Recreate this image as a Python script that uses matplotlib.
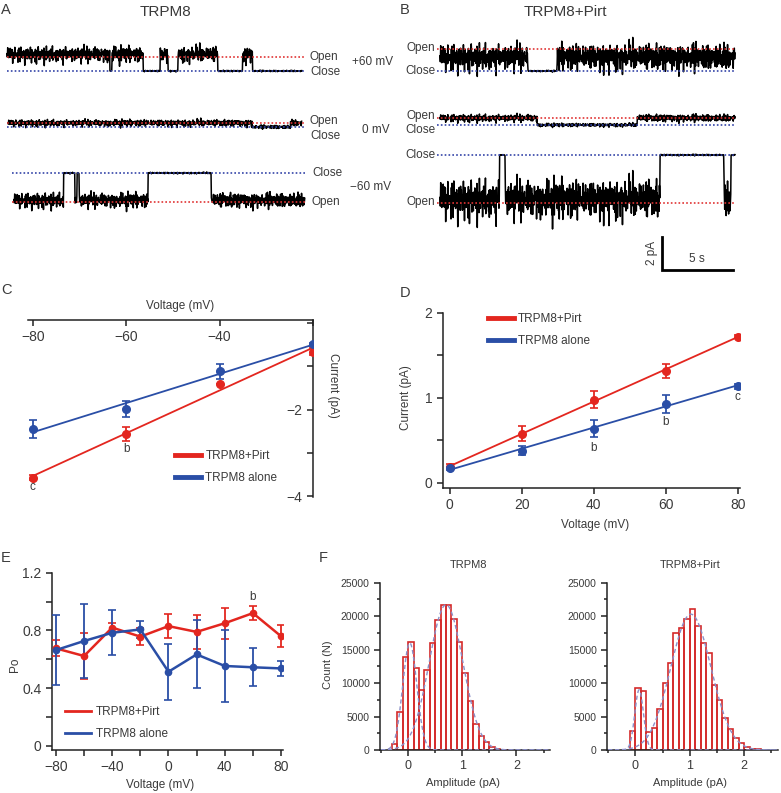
import numpy as np
import matplotlib.pyplot as plt
from matplotlib.lines import Line2D

plt.rcParams['font.family'] = ['Liberation Sans Narrow', 'Liberation Sans', 'DejaVu Sans']
TXT = '#3a3a3a'
RED = '#e3261f'
BLUE = '#2a4ea6'

# ---------------- data ----------------
# single-channel traces: open intervals (s), trace length (s), unitary current (pA)
A60_OPEN = [(0.0, 7.25), (7.4, 9.6), (10.8, 11.35), (12.05, 14.85), (16.6, 17.3)]
A60_DUR, A60_I = 20.8, 0.85
A0_OPEN = [(0.0, 17.2), (19.9, 20.7)]
A0_DUR, A0_I = 20.7, 0.24
AM60_OPEN = [(0.0, 3.5), (4.3, 4.45), (4.6, 9.45), (13.9, 20.5)]
AM60_DUR, AM60_I = 20.5, -1.76
B60_OPEN = [(0.0, 6.2), (8.25, 20.8)]
B60_DUR, B60_I = 20.8, 1.33
B0_OPEN = [(0.0, 6.85), (13.9, 20.8)]
B0_DUR, B0_I = 20.8, 0.42
BM60_OPEN = [(0.0, 4.2), (4.6, 15.5), (20.0, 20.5)]
BM60_DUR, BM60_I = 20.8, -2.9

# hand-typed noise texture for the recordings
NOISE = np.array([0.12, -0.45, 0.78, -0.10, 0.33, -0.86, 0.51, 0.04, -0.62, 0.95,
                  -0.28, 0.17, -0.71, 0.40, -0.05, 0.66, -0.93, 0.22, 0.58, -0.37,
                  0.09, -0.54, 0.87, -0.19, 0.30, -0.76, 0.45, -0.02, 0.69, -0.41,
                  0.14, -0.88, 0.53, -0.25, 0.81, -0.08, 0.36, -0.67, 0.20, 0.99,
                  -0.49, 0.07, -0.31, 0.61, -0.83, 0.26, -0.15, 0.72, -0.58, 0.39,
                  -0.97, 0.11, 0.48, -0.22, 0.84, -0.64, 0.03, -0.43, 0.57, -0.12,
                  0.91, -0.34, 0.18, -0.79, 0.42, -0.06, 0.63, -0.52, 0.29, -0.90,
                  0.75, -0.17, 0.06, -0.60, 0.47, -0.27, 0.85, -0.39, 0.15, -0.73,
                  0.54, -0.03, 0.32, -0.95, 0.68, -0.20, 0.10, -0.47, 0.89])

# C: I-V at negative voltages
C_V = np.array([-80, -60, -40, -20])
C_PIRT = np.array([-3.57, -2.57, -1.41, -0.66])
C_PIRT_ERR = np.array([0.05, 0.16, 0.0, 0.08])
C_ALONE = np.array([-2.45, -1.99, -1.12, -0.49])
C_ALONE_ERR = np.array([0.21, 0.19, 0.17, 0.03])

# D: I-V at positive voltages
D_V = np.array([0, 20, 40, 60, 80])
D_PIRT = np.array([0.19, 0.58, 0.98, 1.32, 1.72])
D_PIRT_ERR = np.array([0.03, 0.09, 0.10, 0.08, 0.02])
D_ALONE = np.array([0.17, 0.38, 0.64, 0.93, 1.14])
D_ALONE_ERR = np.array([0.02, 0.05, 0.10, 0.11, 0.03])

# E: open probability
E_V = np.array([-80, -60, -40, -20, 0, 20, 40, 60, 80])
E_PIRT = np.array([0.676, 0.623, 0.82, 0.757, 0.83, 0.79, 0.85, 0.92, 0.76])
E_PIRT_ERR = np.array([0.055, 0.16, 0.03, 0.06, 0.085, 0.12, 0.107, 0.046, 0.078])
E_ALONE = np.array([0.664, 0.727, 0.784, 0.807, 0.514, 0.634, 0.554, 0.545, 0.537])
E_ALONE_ERR = np.array([0.245, 0.255, 0.155, 0.06, 0.195, 0.235, 0.25, 0.133, 0.05])

# F: amplitude histograms (bin centres in pA, counts)
F1_BINS = np.array([-0.25, -0.15, -0.05, 0.05, 0.15, 0.25, 0.35, 0.45, 0.55, 0.65,
                    0.75, 0.85, 0.95, 1.05, 1.15, 1.25, 1.35, 1.45, 1.55, 1.65,
                    1.75, 1.85])
F1_COUNT = np.array([850, 5620, 13930, 16170, 12290, 8960, 11990, 15970, 19400, 21640,
                     21640, 19650, 16070, 11490, 7360, 3880, 2040, 1140, 400, 150,
                     60, 30])
F1_FIT = [(16000, 0.03, 0.13), (21700, 0.70, 0.31)]  # amplitude, mean, sd
F2_BINS = np.array([-0.05, 0.05, 0.15, 0.25, 0.35, 0.45, 0.55, 0.65, 0.75, 0.85,
                    0.95, 1.05, 1.15, 1.25, 1.35, 1.45, 1.55, 1.65, 1.75, 1.85,
                    1.95, 2.05, 2.15, 2.25])
F2_COUNT = np.array([2790, 9250, 8760, 2740, 3330, 6120, 9950, 12990, 17410, 18160,
                     19550, 21140, 18460, 15970, 14430, 9750, 7510, 4830, 3130, 1790,
                     1000, 450, 200, 100])
F2_FIT = [(9000, 0.07, 0.08), (20300, 1.02, 0.37)]

# ---------------- figure ----------------
W, H = 781, 793
fig = plt.figure(figsize=(W / 100, H / 100), dpi=100)


def box(l, t, r, b):
    return [l / W, 1 - b / H, (r - l) / W, (b - t) / H]


def ftext(x, y, s, **kw):
    kw.setdefault('color', TXT)
    kw.setdefault('fontsize', 8.5)
    fig.text(x / W, 1 - y / H, s, **kw)


PX_S = 14.2    # px per second
PX_PA = 16.5   # px per pA
ax_tr = fig.add_axes([0, 0, 1, 1])
ax_tr.set_xlim(0, W / PX_S)
ax_tr.set_ylim(-H / PX_PA, 0)
ax_tr.axis('off')


def build_trace(opens, dur, amp, n_open, n_closed, bias=0.0, dt=0.025):
    t = np.arange(0, dur, dt)
    state = np.zeros_like(t)
    for a, b in opens:
        state[(t >= a) & (t < b)] = 1
    k = np.arange(len(t))
    n = 0.7 * NOISE[k % len(NOISE)] + 0.3 * NOISE[(3 * k) % 53]
    n = n + 0.8 * n ** 3
    y = state * (amp + bias + n_open * n) + (1 - state) * n_closed * n
    return t, y


# (opens, dur, amp, noise open, noise closed, bias, x0 px, close px, dotted line x range)
traces = [
    (A60_OPEN, A60_DUR, A60_I, 0.42, 0.04, 0.15, 7, 71, (7, 305)),
    (A0_OPEN, A0_DUR, A0_I, 0.18, 0.1, 0.0, 8, 127, (7, 305)),
    (AM60_OPEN, AM60_DUR, AM60_I, 0.40, 0.04, 0.1, 14, 173, (12, 305)),
    (B60_OPEN, B60_DUR, B60_I, 0.72, 0.04, -0.5, 440, 71, (437, 735)),
    (B0_OPEN, B0_DUR, B0_I, 0.2, 0.09, 0.0, 440, 125, (437, 735)),
    (BM60_OPEN, BM60_DUR, BM60_I, 1.05, 0.04, 0.2, 440, 155, (437, 735)),
]
for opens, dur, amp, no, nc, bias, x0, yc, (xa, xb) in traces:
    t, y = build_trace(opens, dur, amp, no, nc, bias)
    base = -yc / PX_PA
    ax_tr.plot(x0 / PX_S + t, base + y, color='k', lw=1.1, zorder=2)
    ax_tr.plot([xa / PX_S, xb / PX_S], [base, base], color='#3444a8', lw=1.2,
               ls=(0, (1, 1.3)), zorder=3)
    ax_tr.plot([xa / PX_S, xb / PX_S], [base + amp, base + amp], color='#e03434',
               lw=1.2, ls=(0, (1, 1.3)), zorder=3)

# scale bar: 2 pA, 5 s
sx, sy = 662 / PX_S, -270 / PX_PA
ax_tr.plot([sx, sx, sx + 5], [sy + 2, sy, sy], color='k', lw=2, solid_joinstyle='miter')
ftext(652, 253, '2 pA', rotation=90, ha='center', va='center')
ftext(697, 259, '5 s', ha='center', va='center')

# trace labels
for x, y, s in [(310, 57, 'Open'), (310, 72, 'Close'), (310, 121, 'Open'), (310, 136, 'Close'),
                (312, 173, 'Close'), (312, 202, 'Open')]:
    ftext(x, y, s, ha='left', va='center')
for y, s in [(48, 'Open'), (71, 'Close'), (116, 'Open'), (130, 'Close'), (155, 'Close'), (202, 'Open')]:
    ftext(435, y, s, ha='right', va='center')
ftext(352, 62, '+60 mV', ha='left', va='center')
ftext(362, 130, '0 mV', ha='left', va='center')
ftext(350, 187, '\u221260 mV', ha='left', va='center')
ftext(165, 12, 'TRPM8', ha='center', va='center', fontsize=11)
ftext(565, 12, 'TRPM8+Pirt', ha='center', va='center', fontsize=11)
for x, y, s in [(6, 10, 'A'), (405, 10, 'B'), (6, 290, 'C'), (405, 293, 'D'), (6, 558, 'E'), (323, 558, 'F')]:
    ftext(x, y, s, ha='center', va='center', fontsize=10.5)


def add_legend(ax, anchor, lw=3.5):
    h = [Line2D([], [], color=RED, lw=lw), Line2D([], [], color=BLUE, lw=lw)]
    ax.legend(h, ['TRPM8+Pirt', 'TRPM8 alone'], loc='upper left', bbox_to_anchor=anchor,
              frameon=False, fontsize=8.5, handlelength=2.2, handletextpad=0.4,
              labelspacing=0.85, borderpad=0, borderaxespad=0, labelcolor=TXT)


def style(ax, fs=10):
    for s in ['top', 'right']:
        ax.spines[s].set_visible(False)
    for s in ['left', 'bottom']:
        ax.spines[s].set_color('#222')
        ax.spines[s].set_linewidth(1.1)
    ax.tick_params(labelsize=fs, colors='#222', labelcolor=TXT, width=1.1, length=4)
    ax.tick_params(which='minor', width=1.1, length=3, colors='#222')
    ax.patch.set_alpha(0)


eb = dict(marker='o', ms=5.5, capsize=3, elinewidth=1.3, capthick=1.2, lw=0, zorder=4)

# ---- C ----
axC = fig.add_axes(box(28, 320, 313, 497))
axC.set_xlim(-81, -20)
axC.set_ylim(-4.02, 0.07)
style(axC)
axC.spines['left'].set_position(('data', -20))
axC.spines['bottom'].set_position(('data', 0.07))
axC.set_xticks([-80, -60, -40, -20], ['\u221280', '\u221260', '\u221240', ''])
axC.set_yticks([-4, -3, -2, -1, 0], ['\u22124', '', '\u22122', '', ''])
axC.tick_params(axis='x', direction='out', pad=3)
for y, c, e in [(C_PIRT, RED, C_PIRT_ERR), (C_ALONE, BLUE, C_ALONE_ERR)]:
    k, b0 = np.polyfit(C_V, y, 1)
    axC.plot(C_V, k * C_V + b0, color=c, lw=1.3, zorder=3)
    axC.errorbar(C_V, y, yerr=e, color=c, **eb)
axC.text(-60, -2.91, 'b', ha='center', va='center', fontsize=8.5, color=TXT)
axC.text(-80, -3.79, 'c', ha='center', va='center', fontsize=8.5, color=TXT)
add_legend(axC, (0.515, 0.265))
ftext(180, 306, 'Voltage (mV)', ha='center', va='center')
ftext(333, 385, 'Current (pA)', ha='center', va='center', rotation=270)

# ---- D ----
axD = fig.add_axes(box(443, 313, 740, 488))
axD.set_xlim(-1.9, 80.6)
axD.set_ylim(-0.06, 2.0)
style(axD)
axD.set_xticks([0, 20, 40, 60, 80])
axD.set_yticks([0, 1, 2])
axD.set_yticks([0.5, 1.5], minor=True)
axD.tick_params(which='minor', length=4)
for y, c, e in [(D_PIRT, RED, D_PIRT_ERR), (D_ALONE, BLUE, D_ALONE_ERR)]:
    k, b0 = np.polyfit(D_V, y, 1)
    axD.plot(D_V, k * D_V + b0, color=c, lw=1.3, zorder=3)
    axD.errorbar(D_V, y, yerr=e, color=c, **eb)
for x, y, s in [(40, 0.41, 'b'), (60, 0.72, 'b'), (80, 1.01, 'c')]:
    axD.text(x, y, s, ha='center', va='center', fontsize=8.5, color=TXT)
add_legend(axD, (0.15, 1.0))
ftext(595, 525, 'Voltage (mV)', ha='center', va='center')
ftext(406, 398, 'Current (pA)', ha='center', va='center', rotation=90)

# ---- E ----
axE = fig.add_axes(box(52, 572.7, 283, 750))
axE.set_xlim(-82.8, 81.4)
axE.set_ylim(-0.028, 1.2)
style(axE)
axE.set_xticks([-80, -60, -40, -20, 0, 20, 40, 60, 80],
               ['\u221280', '', '\u221240', '', '0', '', '40', '', '80'])
axE.set_yticks([0, 0.4, 0.8, 1.2], ['0', '0.4', '0.8', '1.2'])
axE.set_yticks([0.2, 0.6, 1.0], minor=True)
axE.tick_params(which='minor', length=4)
for y, c, e in [(E_PIRT, RED, E_PIRT_ERR), (E_ALONE, BLUE, E_ALONE_ERR)]:
    axE.errorbar(E_V, y, yerr=e, color=c, marker='o', ms=4.5, capsize=3,
                 elinewidth=1.3, capthick=1.2, lw=1.8, zorder=3)
axE.text(60, 1.03, 'b', ha='center', va='center', fontsize=8.5, color=TXT)
add_legend(axE, (0.056, 0.25), lw=2)
ftext(160, 785, 'Voltage (mV)', ha='center', va='center')
ftext(15, 665, 'Po', ha='center', va='center', rotation=90)

# ---- F ----
xs = np.linspace(-0.5, 2.6, 400)
panels_f = [((380, 582.7, 550, 750), F1_BINS, F1_COUNT, F1_FIT, 'TRPM8', 469, 463),
            ((607, 582.7, 778, 750), F2_BINS, F2_COUNT, F2_FIT, 'TRPM8+Pirt', 690, 690)]
for bx, bins, counts, fit, title, tx, lx in panels_f:
    ax = fig.add_axes(box(*bx))
    style(ax, fs=7.5)
    ax.bar(bins, counts, width=0.1, fill=False, edgecolor='#d42a2a', lw=1.2, zorder=2)
    for a, m, s in fit:
        ax.plot(xs, a * np.exp(-(xs - m) ** 2 / (2 * s ** 2)), color='#8b8fc8', lw=1.0,
                ls=(0, (3, 2)), zorder=3)
    ax.set_xlim(-0.52, 2.62)
    ax.set_ylim(0, 25000)
    ax.set_xticks([0, 1, 2])
    ax.set_xticks([-0.5, 0.5, 1.5, 2.5], minor=True)
    ax.set_yticks(np.arange(0, 25001, 5000))
    ax.set_yticks(np.arange(2500, 25000, 5000), minor=True)
    ax.tick_params(axis='x', labelsize=9)
    ax.tick_params(which='minor', length=2.5)
    ftext(tx, 565, title, ha='center', va='center', fontsize=8)
    ftext(lx, 783, 'Amplitude (pA)', ha='center', va='center', fontsize=8)
ftext(328, 665, 'Count (N)', ha='center', va='center', rotation=90, fontsize=8)

fig.savefig('out.png', dpi=100)
